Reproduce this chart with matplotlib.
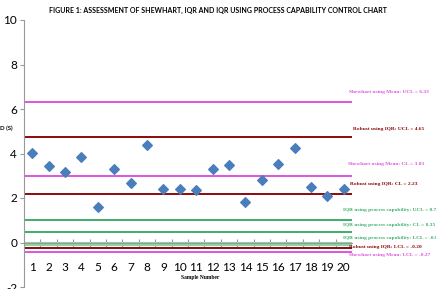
import matplotlib.pyplot as plt
import numpy as np

# Sample data
samples = list(range(1, 21))
sd_values = [4.03, 3.45, 3.18, 3.86, 1.61, 3.32, 2.69, 4.39, 2.42, 2.42,
             2.38, 3.32, 3.50, 1.84, 2.83, 3.54, 4.26, 2.51, 2.11, 2.42]

# Control limit lines (position, label, colour, width)
limit_values = [6.33, 4.72, 2.97, 2.20, 1.02, 0.45, -0.05, -0.24, -0.43]
limit_labels = ["Shewhart using Mean: UCL = 6.33",
                "Robust using IQR: UCL = 4.65",
                "Shewhart using Mean: CL = 3.03",
                "Robust using IQR: CL = 2.23",
                "IQR using process capability: UCL = 0.7",
                "IQR using process capability: CL = 0.35",
                "IQR using process capability: LCL = -0.0",
                "Robust using IQR: LCL = -0.20",
                "Shewhart using Mean: LCL = -0.27"]
limit_label_y = [6.75, 5.1, 3.55, 2.65, 1.45, 0.78, 0.2, -0.18, -0.55]
limit_label_x = [20.3, 20.55, 20.25, 20.35, 19.95, 19.95, 19.95, 20.3, 20.3]
magenta = "#DD55DD"
darkred = "#8B0A0A"
green = "#3DAF6A"
limit_colors = [magenta, darkred, magenta, darkred, green, green, "#8ED3A4", darkred, magenta]
limit_widths = [1.4, 1.4, 1.4, 1.4, 1.4, 1.4, 3.0, 1.4, 1.4]

fig = plt.figure(figsize=(4.36, 2.89), dpi=100)
ax = fig.add_axes([24 / 436, 2 / 289, 328 / 436, 267 / 289])

for val, col, lw in zip(limit_values, limit_colors, limit_widths):
    ax.axhline(val, color=col, lw=lw, zorder=2)

ax.scatter(samples, sd_values, marker="D", s=24, color="#4A7EBB", zorder=4)

for lab, ly, lx, col in zip(limit_labels, limit_label_y, limit_label_x, limit_colors):
    if col == "#8ED3A4":
        col = green
    ax.text(lx, ly, lab, color=col, fontsize=3.9, family="Liberation Serif",
            fontweight="bold", va="center", ha="left", clip_on=False)

ax.set_xlim(0.5, 20.5)
ax.set_ylim(-2, 10)
ax.set_yticks(np.arange(-2, 11, 2))
ax.set_yticklabels([str(v) for v in range(-2, 11, 2)], family="Lato", fontsize=8.5)
ax.tick_params(axis="y", length=3, color="#999999", pad=2)

# category axis crossing at 0, ticks between categories
ax.spines["bottom"].set_position(("data", 0))
ax.spines["bottom"].set_color("#999999")
ax.spines["left"].set_color("#999999")
ax.spines["top"].set_visible(False)
ax.spines["right"].set_visible(False)
ax.set_xticks(np.arange(1.5, 20.5, 1))
ax.set_xticklabels([])
ax.tick_params(axis="x", which="major", direction="inout", length=6, color="#999999")
ax.set_xticks(samples, minor=True)
ax.set_xticklabels([str(s) for s in samples], minor=True, family="Lato", fontsize=8.5)
ax.tick_params(axis="x", which="minor", length=0, pad=14)

fig.text(200 / 436, 1 - 278 / 289, "Sample Number", fontsize=4.0, family="Liberation Serif",
         fontweight="bold", ha="center", va="center")
fig.text(0.0, 1 - 128 / 289, "D (S)", fontsize=4.3, fontweight="bold", family="Lato",
         ha="left", va="center")
fig.text(218 / 436, 1 - 10 / 289,
         "FIGURE 1: ASSESSMENT OF SHEWHART, IQR AND IQR USING PROCESS CAPABILITY CONTROL CHART",
         fontsize=5.0, fontweight="bold", family="Lato", ha="center", va="center")

fig.savefig("out.png", dpi=100)
